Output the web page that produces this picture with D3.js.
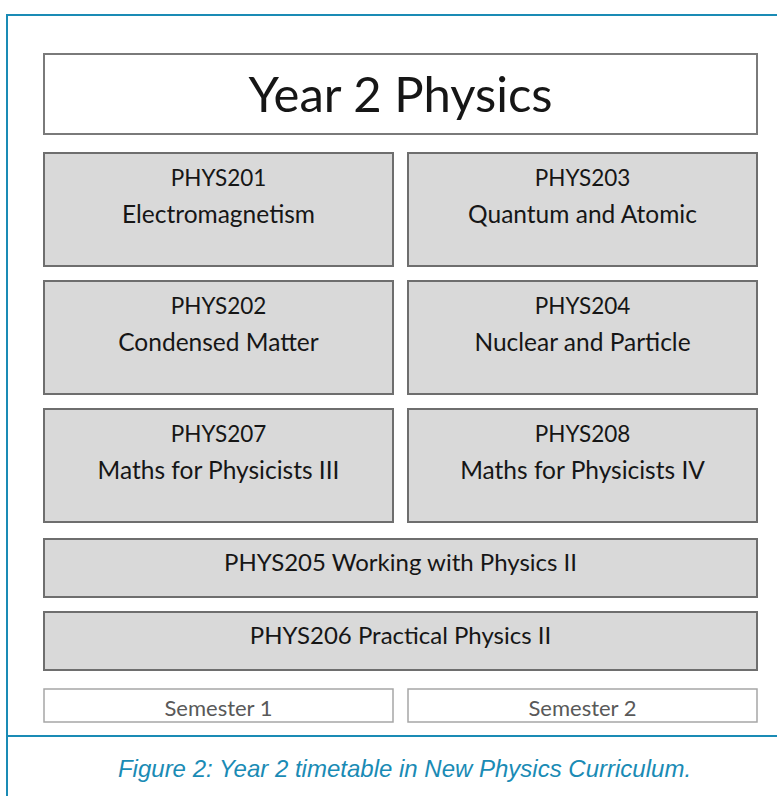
<!DOCTYPE html>
<meta charset="utf-8">
<style>
  body { margin: 0; background: #fff; }
  svg { display: block; }
</style>
<body>
  <div id="chart"></div>

  <script src="https://d3js.org/d3.v7.min.js"></script>
  <script>
  // ——— Data ———
  const title = "Year 2 Physics";
  const semesters = ["Semester 1", "Semester 2"];
  const rows = ["r1", "r2", "r3"];
  // one-semester modules: [code, name, semester, row]
  const codes     = ["PHYS201", "PHYS203", "PHYS202", "PHYS204", "PHYS207", "PHYS208"];
  const names     = ["Electromagnetism", "Quantum and Atomic", "Condensed Matter",
                     "Nuclear and Particle", "Maths for Physicists III", "Maths for Physicists IV"];
  const moduleSem = ["Semester 1", "Semester 2", "Semester 1", "Semester 2", "Semester 1", "Semester 2"];
  const moduleRow = ["r1", "r1", "r2", "r2", "r3", "r3"];
  // year-long modules
  const fullYear  = ["PHYS205 Working with Physics II", "PHYS206 Practical Physics II"];
  const caption   = "Figure 2: Year 2 timetable in New Physics Curriculum.";

  const modules = codes.map((c, i) => ({ code: c, name: names[i], sem: moduleSem[i], row: moduleRow[i] }));

  // ——— Setup ———
  const W = 777, H = 796;
  const font = "Lato, 'Open Sans', sans-serif";
  const teal = "#1a8bb5";
  const ink = "#161616";

  const svg = d3.select("#chart").append("svg")
      .attr("width", W)
      .attr("height", H);

  // columns (semesters) and rows
  const x = d3.scaleBand()
      .domain(semesters)
      .range([44, 757])
      .paddingInner(15 / 364);

  const y = d3.scaleBand()
      .domain(rows)
      .range([153, 522])
      .paddingInner(15 / 128);

  const yFull = d3.scaleBand()
      .domain(fullYear)
      .range([539, 670])
      .paddingInner(15 / 73);

  // ——— Frame ———
  svg.append("path")
      .attr("d", `M7,${H + 2}V15H${W + 2}`)
      .attr("fill", "none")
      .attr("stroke", teal)
      .attr("stroke-width", 2);

  svg.append("line")
      .attr("x1", 7).attr("x2", W + 2)
      .attr("y1", 736).attr("y2", 736)
      .attr("stroke", teal)
      .attr("stroke-width", 2);

  // ——— Title box ———
  svg.append("rect")
      .attr("x", 44).attr("y", 54)
      .attr("width", 713).attr("height", 80)
      .attr("fill", "#fff")
      .attr("stroke", "#7a7a7a")
      .attr("stroke-width", 2);

  svg.append("text")
      .attr("x", 400.5).attr("y", 112)
      .attr("text-anchor", "middle")
      .attr("font-family", font)
      .attr("font-size", 49)
      .attr("fill", ink)
      .text(title);

  // ——— Semester modules ———
  const g = svg.selectAll(".module")
    .data(modules)
    .join("g")
      .attr("class", "module")
      .attr("transform", d => `translate(${x(d.sem)},${y(d.row)})`);

  g.append("rect")
      .attr("width", x.bandwidth())
      .attr("height", y.bandwidth())
      .attr("fill", "#d9d9d9")
      .attr("stroke", "#6e6e6e")
      .attr("stroke-width", 2);

  g.append("text")
      .attr("x", x.bandwidth() / 2)
      .attr("y", 33)
      .attr("text-anchor", "middle")
      .attr("font-family", font)
      .attr("font-size", 22.5)
      .attr("fill", ink)
      .text(d => d.code);

  g.append("text")
      .attr("x", x.bandwidth() / 2)
      .attr("y", 70)
      .attr("text-anchor", "middle")
      .attr("font-family", font)
      .attr("font-size", 24.5)
      .attr("fill", ink)
      .text(d => d.name);

  // ——— Year-long modules ———
  const f = svg.selectAll(".full")
    .data(fullYear)
    .join("g")
      .attr("class", "full")
      .attr("transform", d => `translate(44,${yFull(d)})`);

  f.append("rect")
      .attr("width", 713)
      .attr("height", yFull.bandwidth())
      .attr("fill", "#d9d9d9")
      .attr("stroke", "#6e6e6e")
      .attr("stroke-width", 2);

  f.append("text")
      .attr("x", 713 / 2)
      .attr("y", 32)
      .attr("text-anchor", "middle")
      .attr("font-family", font)
      .attr("font-size", 24)
      .attr("fill", ink)
      .text(d => d);

  // ——— Semester labels ———
  const s = svg.selectAll(".sem")
    .data(semesters)
    .join("g")
      .attr("class", "sem")
      .attr("transform", d => `translate(${x(d)},689)`);

  s.append("rect")
      .attr("width", x.bandwidth())
      .attr("height", 33)
      .attr("fill", "#fff")
      .attr("stroke", "#a6a6a6")
      .attr("stroke-width", 1.5);

  s.append("text")
      .attr("x", x.bandwidth() / 2)
      .attr("y", 27)
      .attr("text-anchor", "middle")
      .attr("font-family", font)
      .attr("font-size", 22)
      .attr("fill", "#595959")
      .text(d => d);

  // ——— Caption ———
  svg.append("text")
      .attr("x", 404.5).attr("y", 777)
      .attr("text-anchor", "middle")
      .attr("font-family", "'Liberation Sans', Arial, sans-serif")
      .attr("font-style", "italic")
      .attr("font-size", 24)
      .attr("fill", teal)
      .text(caption);
  </script>
</body>
